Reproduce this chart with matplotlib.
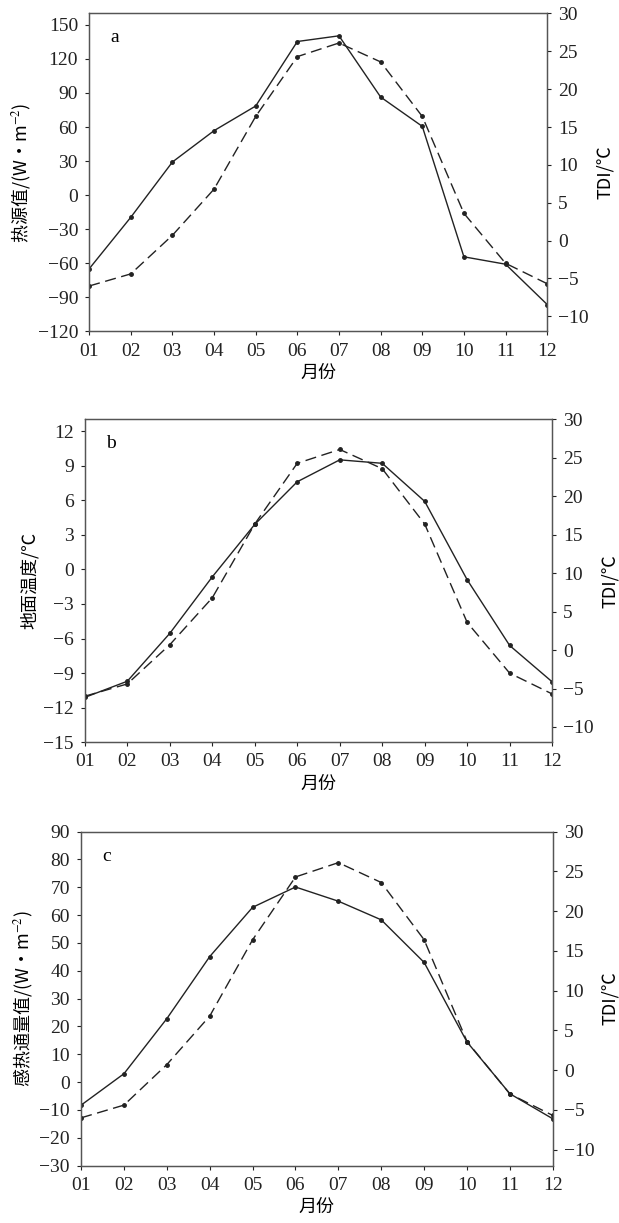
import numpy as np
import matplotlib.pyplot as plt

plt.rcParams['font.family'] = ['Liberation Serif', 'Noto Sans CJK SC']
plt.rcParams['mathtext.fontset'] = 'stix'

months = ['01', '02', '03', '04', '05', '06', '07', '08', '09', '10', '11', '12']
tdi = [-6.0, -4.4, 0.7, 6.8, 16.4, 24.3, 26.1, 23.6, 16.4, 3.6, -3.0, -5.7]
heat_source = [-64.9, -19.5, 29.2, 56.8, 78.5, 135.3, 140.3, 86.4, 60.6, -54.3, -60.8, -96.3]
ground_temp = [-11.1, -9.7, -5.55, -0.65, 3.9, 7.6, 9.5, 9.2, 5.9, -0.9, -6.6, -9.75]
sensible_heat = [-8.3, 3.0, 22.8, 45.1, 62.8, 70.1, 65.0, 58.3, 43.0, 14.4, -4.2, -13.2]

panels = [
    dict(letter='a', y=heat_source, label='热源值/(W•m$^{-2}$)',
         ylim=(-120, 160), ticks=np.arange(-120, 151, 30),
         rect=[0.144, 0.729, 0.740, 0.260]),
    dict(letter='b', y=ground_temp, label='地面温度/℃',
         ylim=(-15, 13), ticks=np.arange(-15, 13, 3),
         rect=[0.137, 0.393, 0.755, 0.264]),
    dict(letter='c', y=sensible_heat, label='感热通量值/(W•m$^{-2}$)',
         ylim=(-30, 90), ticks=np.arange(-30, 91, 10),
         rect=[0.131, 0.047, 0.762, 0.273]),
]

x = np.arange(1, 13)
fig = plt.figure(figsize=(6.19, 12.23), dpi=100)
cjk = ['Noto Sans CJK SC', 'DejaVu Sans']

for p in panels:
    ax = fig.add_axes(p['rect'])
    ax.plot(x, p['y'], color='#222222', lw=1.0, marker='o', ms=2.5)
    ax.set_xlim(1, 12)
    ax.set_ylim(*p['ylim'])
    ax.set_yticks(p['ticks'])
    ax.set_xticks(x)
    ax.set_xticklabels(months)
    ax.tick_params(labelsize=14, length=3, width=0.8, pad=5, colors='#222222')
    ax.set_xlabel('月份', fontsize=13, family=cjk, labelpad=3)
    ax.set_ylabel(p['label'], fontsize=13, family=cjk, labelpad=3)
    ax.text(0.055, 0.925, p['letter'], transform=ax.transAxes, fontsize=14,
            ha='center', va='center')
    for s in ax.spines.values():
        s.set_linewidth(0.9)
        s.set_color('#555555')

    ax2 = ax.twinx()
    ax2.plot(x, tdi, color='#222222', lw=1.0, ls=(0, (8, 4)), marker='o', ms=2.5)
    ax2.set_ylim(-12, 30)
    ax2.set_yticks(np.arange(-10, 31, 5))
    ax2.tick_params(labelsize=14, length=3, width=0.8, pad=5, colors='#222222')
    ax2.set_ylabel('TDI/℃', fontsize=13, family=cjk, labelpad=5)
    for s in ax2.spines.values():
        s.set_linewidth(0.9)
        s.set_color('#555555')

fig.savefig('out.png', dpi=100)
